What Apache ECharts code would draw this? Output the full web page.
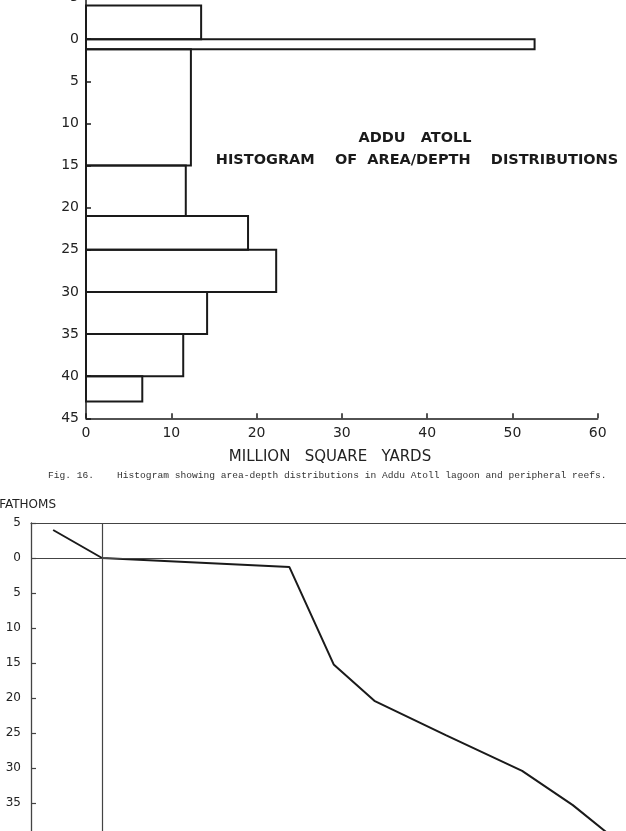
<!DOCTYPE html>
<html>
<head>
<meta charset="utf-8">
<script src="https://cdn.jsdelivr.net/npm/echarts@6/dist/echarts.min.js"></script>
<style>
html,body{margin:0;padding:0;background:#fff}
#chart{width:626px;height:831px}
</style>
</head>
<body>
<div id="chart"></div>
<script>
// histogram bins: depth in fathoms (negative = above datum), area in million square yards
const binTop    = [-4, 0, 1.2, 15, 21, 25, 30, 35, 40];
const binBottom = [0, 1.2, 15, 21, 25, 30, 35, 40, 43];
const binArea   = [13.5, 52.6, 12.3, 11.7, 19.0, 22.3, 14.2, 11.4, 6.6];

// lower figure: area/depth curve (area axis not labelled in the print)
const curveArea  = [0, 13.7, 66.2, 78.6, 90.0, 110.0, 131.4, 145.6, 157.0, 163.6];
const curveDepth = [-4, 0, 1.3, 15.2, 20.4, 25.3, 30.4, 35.3, 40, 43];
const curveRefArea = 13.7;

const ink = '#1a1a1a';
const sans = 'DejaVu Sans';

const histData = binArea.map((a, i) => [binTop[i], binBottom[i], a]);
const curveData = curveArea.map((a, i) => [a, curveDepth[i]]);

const chart = echarts.init(document.getElementById('chart'), null, {renderer: 'canvas'});

chart.setOption({
    backgroundColor: '#fff',
    animation: false,
    grid: [
        {left: 86, right: 28.3, top: -3, bottom: 412.7, outerBoundsMode: 'none', containLabel: false},
        {left: 31, right: 0, top: 523, height: 350, outerBoundsMode: 'none', containLabel: false}
    ],
    xAxis: [
        {
            gridIndex: 0, type: 'value', min: 0, max: 60, interval: 10, position: 'bottom',
            splitLine: {show: false},
            axisLine: {onZero: false, lineStyle: {color: ink, width: 1.5}},
            axisTick: {inside: true, length: 5, lineStyle: {color: ink, width: 1.5}},
            axisLabel: {color: '#222', fontFamily: sans, fontSize: 14, margin: 8}
        },
        {
            gridIndex: 1, type: 'value', min: -6.2, max: 160.5, position: 'top',
            splitLine: {show: false},
            axisLine: {onZero: false, lineStyle: {color: '#444', width: 1.2}},
            axisTick: {show: false},
            axisLabel: {show: false}
        }
    ],
    yAxis: [
        {
            gridIndex: 0, type: 'value', min: -5, max: 45, interval: 5, inverse: true,
            splitLine: {show: false},
            axisLine: {onZero: false, lineStyle: {color: ink, width: 1.5}},
            axisTick: {inside: true, length: 5, lineStyle: {color: ink, width: 1.5}},
            axisLabel: {color: '#222', fontFamily: sans, fontSize: 14, margin: 7,
                formatter: v => String(Math.abs(v))}
        },
        {
            gridIndex: 1, type: 'value', min: -5, max: 45, interval: 5, inverse: true,
            splitLine: {show: false},
            axisLine: {onZero: false, lineStyle: {color: '#444', width: 1.3}},
            axisTick: {inside: true, length: 5, lineStyle: {color: '#444', width: 1.2}},
            axisLabel: {color: '#222', fontFamily: sans, fontSize: 12, margin: 10,
                formatter: v => String(Math.abs(v))}
        }
    ],
    series: [
        {
            type: 'custom',
            xAxisIndex: 0, yAxisIndex: 0,
            data: histData,
            renderItem: function (params, api) {
                const p0 = api.coord([0, api.value(0)]);
                const p1 = api.coord([api.value(2), api.value(1)]);
                return {
                    type: 'rect',
                    shape: {x: p0[0], y: p0[1], width: p1[0] - p0[0], height: p1[1] - p0[1]},
                    style: {fill: 'rgba(255,255,255,0)', stroke: ink, lineWidth: 2}
                };
            }
        },
        {
            type: 'line',
            xAxisIndex: 1, yAxisIndex: 1,
            data: curveData,
            showSymbol: false,
            lineStyle: {color: ink, width: 2},
            markLine: {
                silent: true,
                symbol: 'none',
                label: {show: false},
                lineStyle: {color: '#444', width: 1.2, type: 'solid'},
                data: [{yAxis: 0}, {xAxis: curveRefArea}]
            }
        }
    ],
    graphic: [
        {type: 'text', x: 415, y: 138,
         style: {text: 'ADDU   ATOLL', fill: ink, font: 'bold 14.5px ' + sans,
                 textAlign: 'center', textVerticalAlign: 'middle'}},
        {type: 'text', x: 417, y: 160,
         style: {text: 'HISTOGRAM    OF  AREA/DEPTH    DISTRIBUTIONS', fill: ink, font: 'bold 14.5px ' + sans,
                 textAlign: 'center', textVerticalAlign: 'middle'}},
        {type: 'text', x: 330, y: 457,
         style: {text: 'MILLION   SQUARE   YARDS', fill: '#222', font: '15px ' + sans,
                 textAlign: 'center', textVerticalAlign: 'middle'}},
        {type: 'text', x: 48, y: 475.5,
         style: {text: 'Fig. 16.    Histogram showing area-depth distributions in Addu Atoll lagoon and peripheral reefs.',
                 fill: '#333', font: '9.6px Liberation Mono',
                 textAlign: 'left', textVerticalAlign: 'middle'}},
        {type: 'text', x: 56, y: 505,
         style: {text: 'FATHOMS', fill: '#222', font: '12px ' + sans,
                 textAlign: 'right', textVerticalAlign: 'middle'}}
    ]
});
</script>
</body>
</html>
